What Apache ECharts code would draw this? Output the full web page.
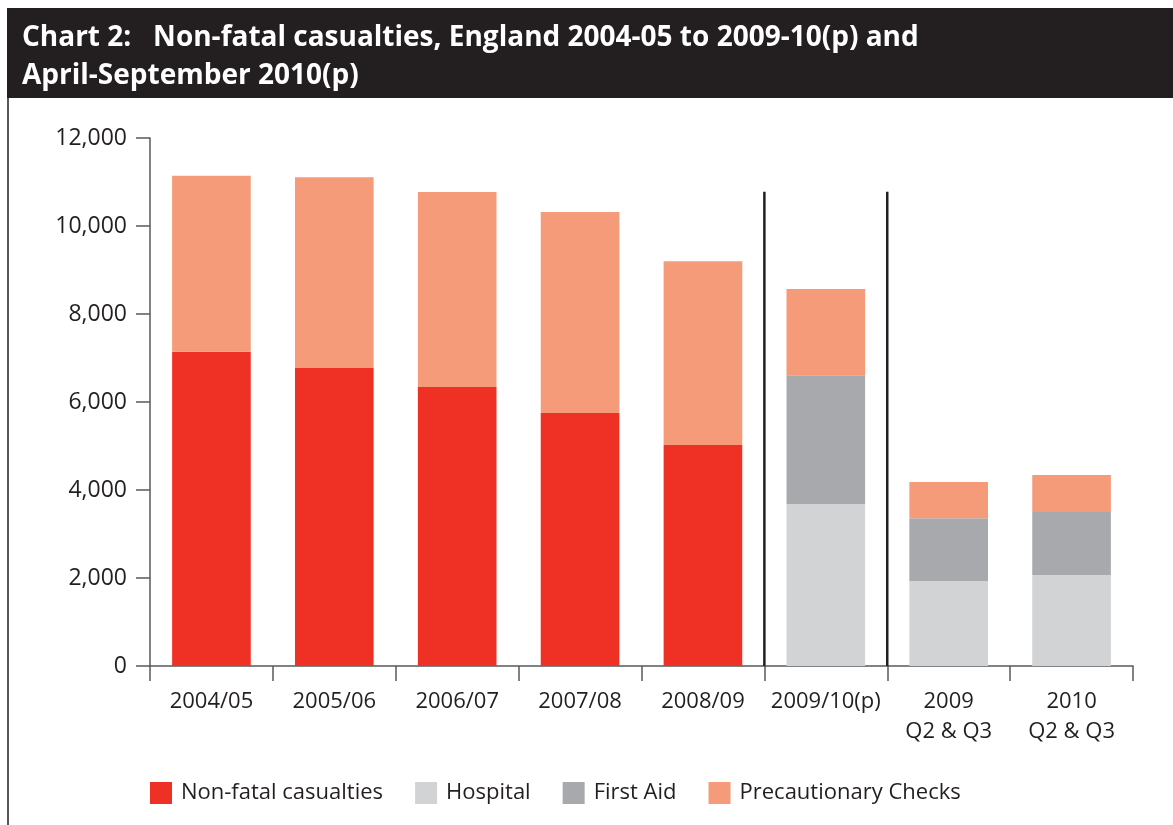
<!DOCTYPE html>
<html>
<head>
<meta charset="utf-8">
<script src="https://cdn.jsdelivr.net/npm/echarts@6/dist/echarts.min.js"></script>
<style>
  html, body { margin: 0; padding: 0; background: #fff; }
  #chart { width: 1173px; height: 825px; }
</style>
</head>
<body>
<div id="chart"></div>
<script>
// categories and values
const categories = ['2004/05', '2005/06', '2006/07', '2007/08', '2008/09', '2009/10(p)', '2009\nQ2 & Q3', '2010\nQ2 & Q3']
const nonFatal = [7140, 6770, 6340, 5750, 5020, '-', '-', '-']
const hospital = ['-', '-', '-', '-', '-', 3680, 1930, 2070]
const firstAid = ['-', '-', '-', '-', '-', 2930, 1430, 1430]
const precautionary = [4000, 4340, 4430, 4570, 4180, 1960, 820, 840]
// dividers drawn at the left edge of these categories, up to this value
const dividers = [[5, 10780], [6, 10780]]
const yTicks = { min: 0, max: 12000, interval: 2000 }

const ink = '#231f20'
const font = '"Open Sans", "Noto Sans", sans-serif'

const chart = echarts.init(document.getElementById('chart'))

function barSeries(name, data, color) {
  return {
    name,
    type: 'bar',
    stack: 'total',
    data,
    barCategoryGap: '36%',
    itemStyle: { color },
    emphasis: { disabled: true },
  }
}

chart.setOption({
  animation: false,
  graphic: [
    { type: 'rect', shape: { x: 7, y: 8, width: 1166, height: 90 }, style: { fill: ink } },
    { type: 'line', shape: { x1: 8, y1: 98, x2: 8, y2: 825 }, style: { stroke: ink, lineWidth: 1.5 } },
  ],
  title: {
    text: 'Chart 2:   Non-fatal casualties, England 2004-05 to 2009-10(p) and\nApril-September 2010(p)',
    left: 22,
    top: 19,
    padding: 0,
    textStyle: { color: '#fff', fontFamily: font, fontWeight: 'bold', fontSize: 28, lineHeight: 38 },
  },
  legend: {
    data: ['Non-fatal casualties', 'Hospital', 'First Aid', 'Precautionary Checks'],
    left: 150,
    top: 782,
    padding: 0,
    icon: 'rect',
    itemWidth: 22,
    itemHeight: 22,
    itemGap: 32,
    textStyle: { color: ink, fontFamily: font, fontSize: 22, padding: [0, 0, 0, 4] },
  },
  grid: { left: 150, right: 40, top: 138, bottom: 159 },
  xAxis: {
    type: 'category',
    data: categories,
    axisLine: { lineStyle: { color: '#58595b', width: 1.5 } },
    axisTick: { show: true, length: 15, inside: false, lineStyle: { color: '#58595b', width: 1.5 } },
    axisLabel: { color: ink, fontFamily: font, fontSize: 22, lineHeight: 30, margin: 21, interval: 0 },
  },
  yAxis: {
    type: 'value',
    min: yTicks.min,
    max: yTicks.max,
    interval: yTicks.interval,
    splitLine: { show: false },
    axisLine: { show: true, lineStyle: { color: '#58595b', width: 1.5 } },
    axisTick: { show: true, length: 14, lineStyle: { color: '#58595b', width: 1.5 } },
    axisLabel: {
      color: ink, fontFamily: font, fontSize: 23, margin: 23,
      formatter: v => v.toLocaleString('en-GB'),
    },
  },
  series: [
    barSeries('Non-fatal casualties', nonFatal, '#ee3124'),
    barSeries('Hospital', hospital, '#d1d3d4'),
    barSeries('First Aid', firstAid, '#a7a9ac'),
    barSeries('Precautionary Checks', precautionary, '#f59b7a'),
    {
      type: 'custom',
      name: 'dividers',
      silent: true,
      data: dividers,
      z: 5,
      renderItem(params, api) {
        const top = api.coord([api.value(0), api.value(1)])
        const base = api.coord([api.value(0), 0])
        const half = api.size([1, 0])[0] / 2
        const x = top[0] - half
        return {
          type: 'line',
          shape: { x1: x, y1: top[1], x2: x, y2: base[1] },
          style: { stroke: ink, lineWidth: 2.5 },
        }
      },
    },
  ],
})
</script>
</body>
</html>
